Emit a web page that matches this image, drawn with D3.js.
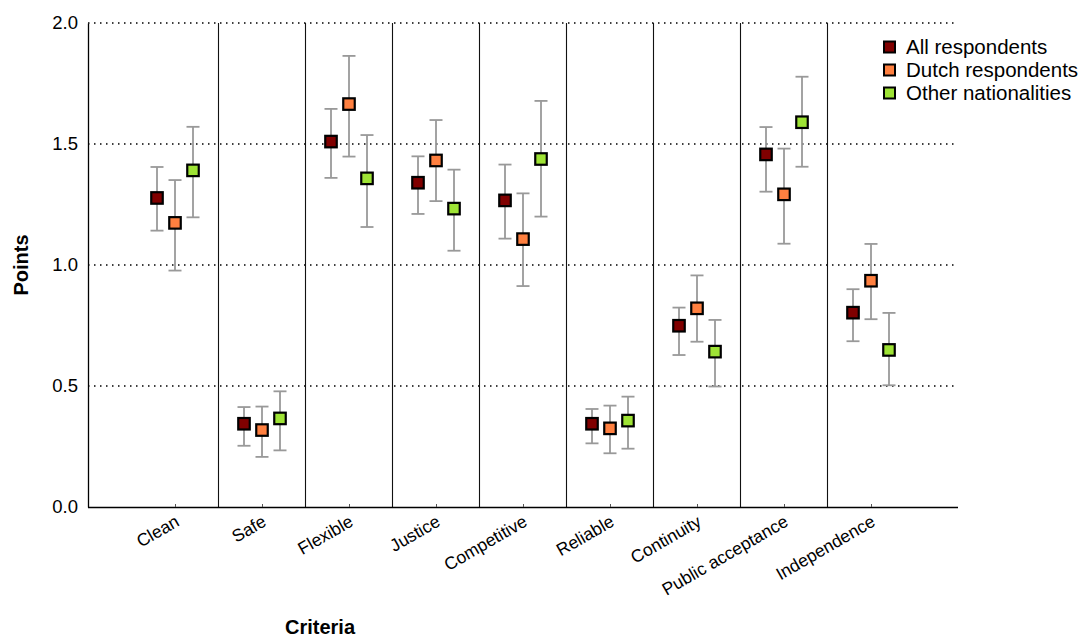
<!DOCTYPE html>
<html>
<head>
<meta charset="utf-8">
<script src="https://cdn.jsdelivr.net/npm/d3@7"></script>
<style>
  html, body { margin: 0; padding: 0; background: #fff; }
  svg { display: block; font-family: "Liberation Sans", Arial, Helvetica, sans-serif; }
</style>
</head>
<body>
<svg id="chart" width="1086" height="637"></svg>
<script>
// Evaluation criteria and the three respondent groups
const categories = ["Clean", "Safe", "Flexible", "Justice", "Competitive", "Reliable", "Continuity", "Public acceptance", "Independence"];
const seriesNames = ["All respondents", "Dutch respondents", "Other nationalities"];
const seriesColors = ["#800000", "#ff8040", "#9ee335"];

// Mean points with lower / upper bounds of the interval
const allMean  = [1.277, 0.344, 1.510, 1.340, 1.267, 0.344, 0.749, 1.457, 0.803];
const allLow   = [1.142, 0.253, 1.360, 1.211, 1.109, 0.263, 0.628, 1.303, 0.685];
const allHigh  = [1.405, 0.413, 1.645, 1.449, 1.415, 0.405, 0.824, 1.570, 0.900];

const dutchMean = [1.174, 0.318, 1.665, 1.432, 1.107, 0.325, 0.821, 1.292, 0.935];
const dutchLow  = [0.977, 0.207, 1.448, 1.264, 0.913, 0.222, 0.683, 1.088, 0.776];
const dutchHigh = [1.351, 0.415, 1.864, 1.599, 1.296, 0.419, 0.957, 1.481, 1.087];

const otherMean = [1.391, 0.366, 1.358, 1.233, 1.438, 0.357, 0.642, 1.590, 0.649];
const otherLow  = [1.197, 0.234, 1.157, 1.059, 1.200, 0.241, 0.498, 1.406, 0.503];
const otherHigh = [1.571, 0.478, 1.537, 1.394, 1.678, 0.456, 0.773, 1.778, 0.802];

const yTicks = [0, 0.5, 1.0, 1.5, 2.0];

const series = [
  { name: seriesNames[0], color: seriesColors[0], mean: allMean, low: allLow, high: allHigh },
  { name: seriesNames[1], color: seriesColors[1], mean: dutchMean, low: dutchLow, high: dutchHigh },
  { name: seriesNames[2], color: seriesColors[2], mean: otherMean, low: otherLow, high: otherHigh }
];

const svg = d3.select("#chart");
const W = 1086, H = 637;
const margin = { top: 23, right: 128, bottom: 130, left: 88 };
const x0 = margin.left, x1 = W - margin.right;
const y0 = H - margin.bottom, y1 = margin.top;

const x = d3.scalePoint().domain(categories).range([x0, x1]).padding(1);
const offset = d3.scalePoint().domain(seriesNames).range([-18, 18]);
const y = d3.scaleLinear().domain([0, 2]).range([y0, y1]);

// Dotted horizontal gridlines
svg.append("g")
  .selectAll("line")
  .data(yTicks.filter(d => d > 0))
  .join("line")
  .attr("x1", x0).attr("x2", x1)
  .attr("y1", d => y(d)).attr("y2", d => y(d))
  .attr("stroke", "#000")
  .attr("stroke-width", 1.5)
  .attr("stroke-dasharray", "1.5,4.5");

// Vertical separators between criteria
const step = x.step();
svg.append("g")
  .selectAll("line")
  .data(categories.slice(0, -1))
  .join("line")
  .attr("x1", d => x(d) + step / 2).attr("x2", d => x(d) + step / 2)
  .attr("y1", y1).attr("y2", y0)
  .attr("stroke", "#111")
  .attr("stroke-width", 1.1);

// Y axis
const yAxis = svg.append("g")
  .attr("transform", `translate(${x0},0)`)
  .call(d3.axisLeft(y).tickValues(yTicks).tickFormat(d3.format(".1f")).tickSize(0).tickPadding(10));
yAxis.select(".domain").attr("stroke", "#000").attr("stroke-width", 1.3);
yAxis.selectAll("text").attr("font-size", 18.5).attr("fill", "#000")
  .attr("font-family", "Liberation Sans, Arial, sans-serif");

// X axis with rotated labels
const xAxis = svg.append("g")
  .attr("transform", `translate(0,${y0})`)
  .call(d3.axisBottom(x).tickSize(-3).tickSizeOuter(0));
xAxis.select(".domain").attr("stroke", "#000").attr("stroke-width", 1.3)
  .attr("d", `M${x0},0.5H${x1}`);
xAxis.selectAll(".tick line").attr("stroke", "#555");
xAxis.selectAll("text")
  .attr("font-size", 17.5)
  .attr("fill", "#000")
  .attr("font-family", "Liberation Sans, Arial, sans-serif")
  .attr("text-anchor", "end")
  .attr("dy", null)
  .attr("y", 0)
  .attr("transform", "translate(5,18) rotate(-30)");

// Axis titles
svg.append("text")
  .attr("transform", `translate(28,${(y0 + y1) / 2}) rotate(-90)`)
  .attr("text-anchor", "middle")
  .attr("font-size", 20).attr("font-weight", "bold")
  .text("Points");

svg.append("text")
  .attr("x", 320).attr("y", 634)
  .attr("text-anchor", "middle")
  .attr("font-size", 20).attr("font-weight", "bold")
  .text("Criteria");

// Error bars and markers
const capHalf = 6.5, box = 11.5;
series.forEach(s => {
  const g = svg.append("g");
  const rows = categories.map((c, i) => ({ c, mean: s.mean[i], low: s.low[i], high: s.high[i] }));
  const cx = d => x(d.c) + offset(s.name);

  g.selectAll("line.v").data(rows).join("line")
    .attr("x1", cx).attr("x2", cx)
    .attr("y1", d => y(d.low)).attr("y2", d => y(d.high))
    .attr("stroke", "#999").attr("stroke-width", 1.8);
  g.selectAll("line.top").data(rows).join("line")
    .attr("x1", d => cx(d) - capHalf).attr("x2", d => cx(d) + capHalf)
    .attr("y1", d => y(d.high)).attr("y2", d => y(d.high))
    .attr("stroke", "#999").attr("stroke-width", 1.8);
  g.selectAll("line.bot").data(rows).join("line")
    .attr("x1", d => cx(d) - capHalf).attr("x2", d => cx(d) + capHalf)
    .attr("y1", d => y(d.low)).attr("y2", d => y(d.low))
    .attr("stroke", "#999").attr("stroke-width", 1.8);
  g.selectAll("rect").data(rows).join("rect")
    .attr("x", d => cx(d) - box / 2).attr("y", d => y(d.mean) - box / 2)
    .attr("width", box).attr("height", box)
    .attr("fill", s.color).attr("stroke", "#000").attr("stroke-width", 2.2);
});

// Legend
const legend = svg.append("g").attr("transform", "translate(884,47)");
series.forEach((s, i) => {
  const row = legend.append("g").attr("transform", `translate(0,${i * 23})`);
  row.append("rect").attr("x", 0).attr("y", -5.5).attr("width", 11).attr("height", 11)
    .attr("fill", s.color).attr("stroke", "#000").attr("stroke-width", 2);
  row.append("text").attr("x", 22).attr("y", 0).attr("dy", "0.35em")
    .attr("font-size", 20.5).text(s.name);
});
</script>
</body>
</html>
